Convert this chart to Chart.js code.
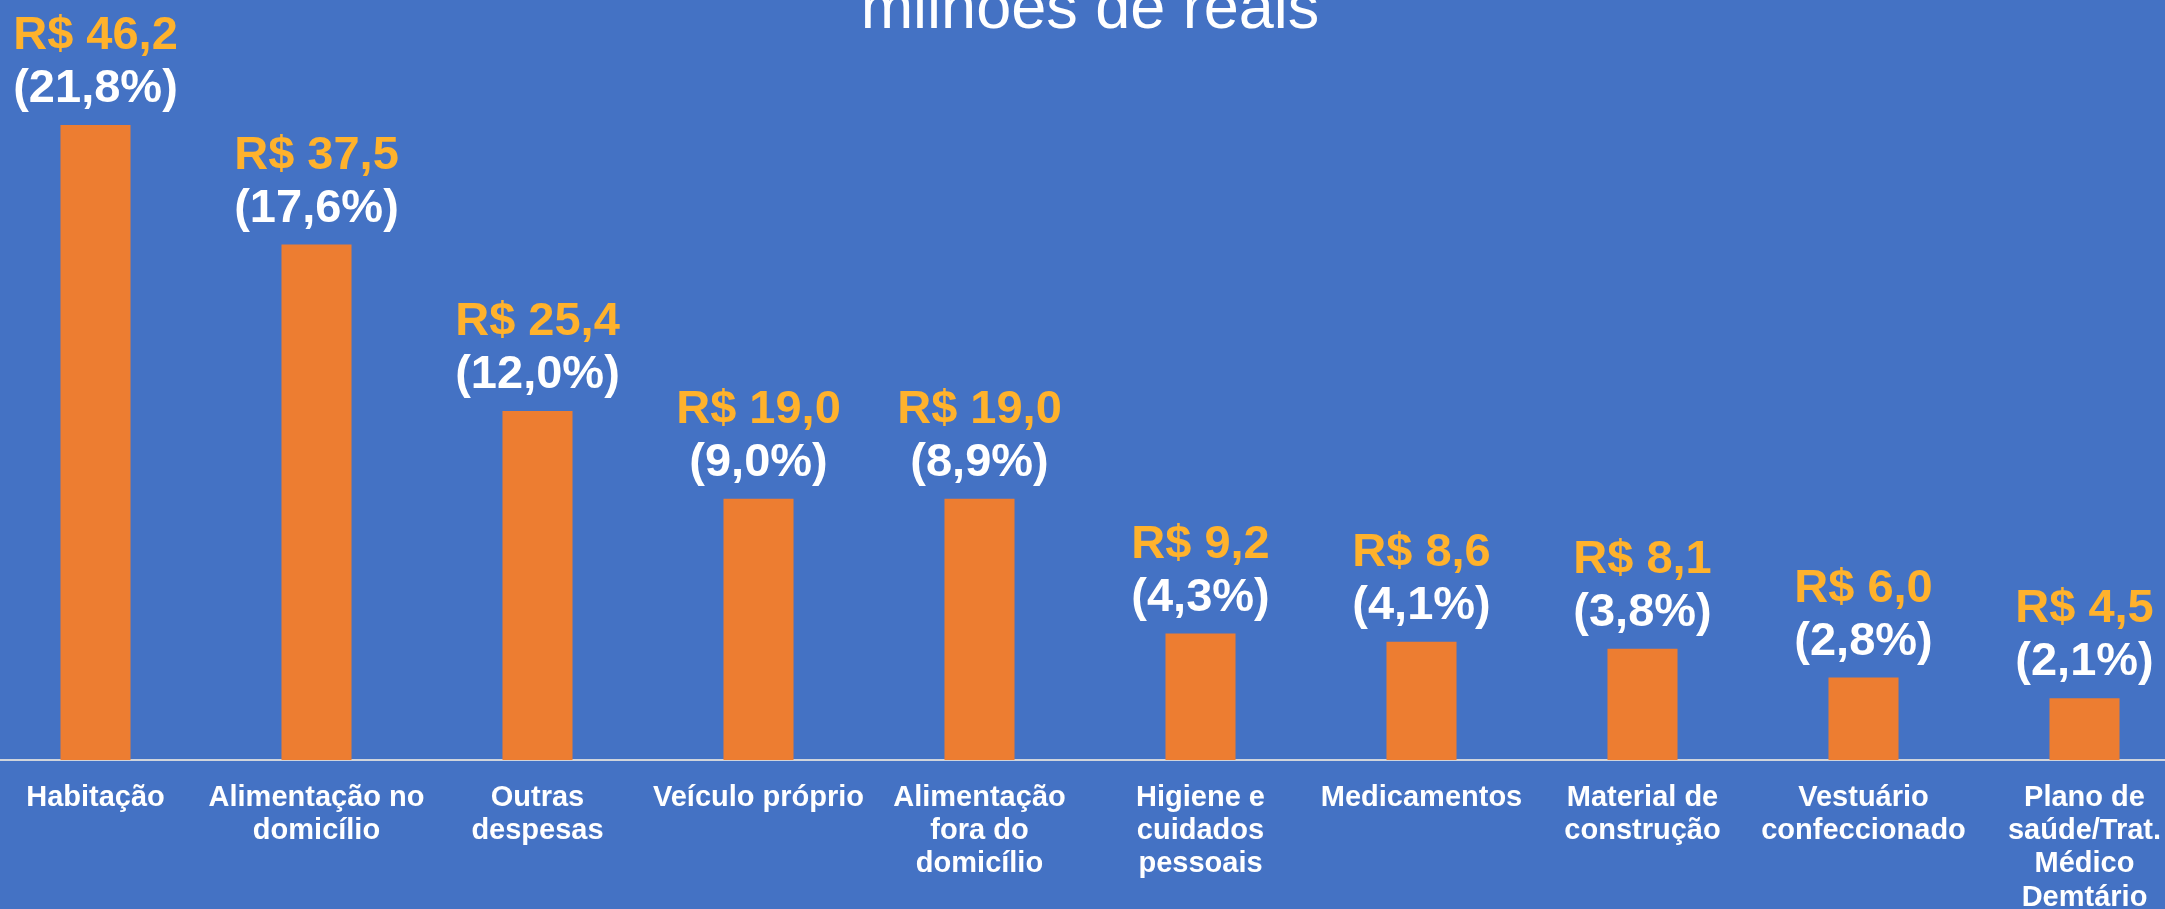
<!DOCTYPE html>
<html>
<head>
<meta charset="utf-8">
<script src="https://cdn.jsdelivr.net/npm/chart.js@4/dist/chart.umd.min.js"></script>
<style>
  html, body { margin: 0; padding: 0; background: #4472C4; overflow: hidden; }
  #wrap { position: absolute; left: -15px; top: -24px; width: 2210px; height: 933px; }
</style>
</head>
<body>
<div id="wrap"><canvas id="chart"></canvas></div>
<script>
var categories = [
  "Habitação",
  ["Alimentação no", "domicílio"],
  ["Outras", "despesas"],
  "Veículo próprio",
  ["Alimentação", "fora do", "domicílio"],
  ["Higiene e", "cuidados", "pessoais"],
  "Medicamentos",
  ["Material de", "construção"],
  ["Vestuário", "confeccionado"],
  ["Plano de", "saúde/Trat.", "Médico", "Demtário"]
];
var values = [46.2, 37.5, 25.4, 19.0, 19.0, 9.2, 8.6, 8.1, 6.0, 4.5];
var shares = [21.8, 17.6, 12.0, 9.0, 8.9, 4.3, 4.1, 3.8, 2.8, 2.1];

var FONT = 'Arial, "Liberation Sans", Helvetica, sans-serif';
Chart.defaults.font.family = FONT;

function br(n) { return n.toFixed(1).replace('.', ','); }

// two-line label above each bar: value in gold, share in white
var barLabels = {
  id: 'barLabels',
  afterDatasetsDraw: function(chart) {
    var ctx = chart.ctx;
    var meta = chart.getDatasetMeta(0);
    ctx.save();
    ctx.font = 'bold 47px ' + FONT;
    ctx.textAlign = 'center';
    ctx.textBaseline = 'alphabetic';
    meta.data.forEach(function(bar, i) {
      ctx.fillStyle = '#FFFFFF';
      ctx.fillText('(' + br(shares[i]) + '%)', bar.x, bar.y - 23);
      ctx.fillStyle = '#FFB22C';
      ctx.fillText('R$ ' + br(values[i]), bar.x, bar.y - 76);
    });
    ctx.restore();
  }
};

var chart = new Chart(document.getElementById('chart'), {
  type: 'bar',
  data: {
    labels: categories,
    datasets: [{
      data: values,
      backgroundColor: '#ED7D31',
      borderWidth: 0,
      barPercentage: 0.317,
      categoryPercentage: 1
    }]
  },
  options: {
    responsive: true,
    maintainAspectRatio: false,
    animation: false,
    layout: { padding: 0 },
    plugins: {
      legend: { display: false },
      tooltip: { enabled: false },
      title: {
        display: true,
        text: 'milhões de reais',
        color: '#FFFFFF',
        font: { size: 63, weight: 'normal', lineHeight: 1.1 },
        padding: { top: 0, bottom: 0 }
      }
    },
    scales: {
      x: {
        grid: { display: false, drawTicks: false },
        border: { display: true, color: '#D0D4DC', width: 2 },
        ticks: {
          color: '#FFFFFF',
          autoSkip: false,
          maxRotation: 0,
          minRotation: 0,
          padding: 21,
          font: { size: 29, weight: 'bold', lineHeight: 1.15 }
        },
        afterFit: function(s) { s.height = 149; }
      },
      y: {
        display: false,
        min: 0,
        max: 52
      }
    }
  },
  plugins: [barLabels]
});
</script>
</body>
</html>
